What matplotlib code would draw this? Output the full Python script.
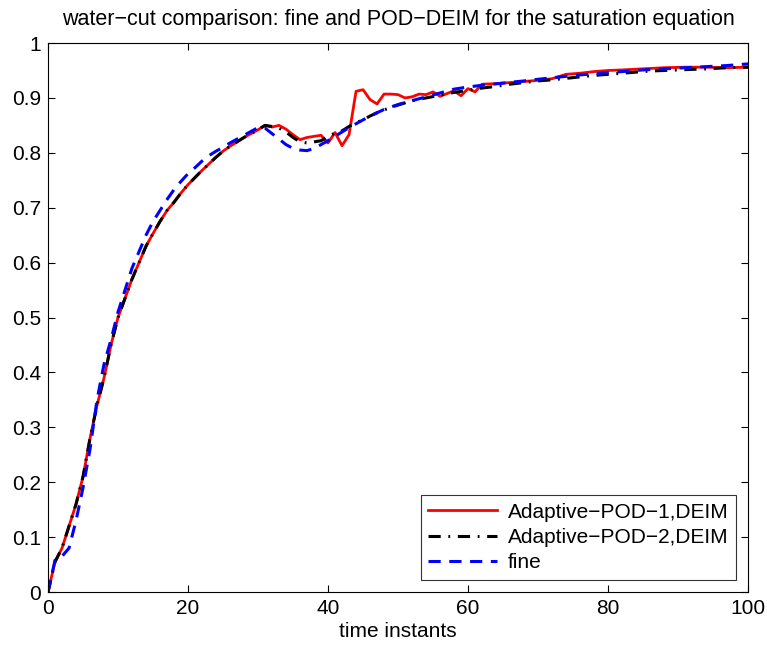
import matplotlib
matplotlib.use("Agg")
import matplotlib.pyplot as plt

plt.rcParams['font.family'] = ['Liberation Sans', 'DejaVu Sans']

# Adaptive-POD-1, DEIM (red)
t_pod1 = [0, 1, 2, 3, 4, 5, 6, 7, 8, 9, 10, 11, 12, 13, 14, 15, 16, 17, 18, 19, 20,
          21, 22, 23, 24, 25, 26, 27, 28, 29, 30, 31, 32, 33, 34, 35, 36, 37, 38, 39, 40,
          41, 42, 43, 44, 45, 46, 47, 48, 49, 50, 51, 52, 53, 54, 55, 56, 57, 58, 59, 60,
          61, 62, 64, 66, 68, 70, 72, 74, 76, 78, 80, 82, 85, 88, 91, 94, 97, 100]
v_pod1 = [0, 0.055, 0.08, 0.12, 0.16, 0.21, 0.28, 0.34, 0.39, 0.45, 0.50, 0.535, 0.57, 0.60,
          0.63, 0.653, 0.675, 0.695, 0.71, 0.727, 0.742, 0.755, 0.768, 0.78, 0.792, 0.803,
          0.812, 0.82, 0.828, 0.835, 0.842, 0.85, 0.847, 0.85, 0.843, 0.833, 0.824, 0.828,
          0.83, 0.832, 0.818, 0.837, 0.813, 0.833, 0.912, 0.915, 0.897, 0.889, 0.907, 0.907,
          0.906, 0.9, 0.902, 0.907, 0.906, 0.911, 0.903, 0.908, 0.913, 0.904, 0.917, 0.911,
          0.925, 0.926, 0.928, 0.93, 0.932, 0.935, 0.943, 0.945, 0.948, 0.95, 0.951, 0.953,
          0.955, 0.956, 0.956, 0.955, 0.956]

# Adaptive-POD-2, DEIM (black)
t_pod2 = [0, 1, 2, 3, 4, 5, 6, 7, 8, 9, 10, 11, 12, 13, 14, 15, 16, 17, 18, 19, 20,
          21, 22, 23, 24, 25, 26, 27, 28, 29, 30, 31, 32, 33, 34, 35, 36, 37, 38, 39, 40,
          41, 42, 43, 44, 45, 46, 47, 48, 49, 50, 52, 54, 56, 58, 60, 62, 64, 66, 68, 70,
          72, 75, 78, 80, 83, 86, 90, 94, 97, 100]
v_pod2 = [0, 0.055, 0.08, 0.12, 0.16, 0.21, 0.28, 0.34, 0.39, 0.45, 0.50, 0.535, 0.57, 0.60,
          0.63, 0.653, 0.675, 0.695, 0.71, 0.727, 0.742, 0.755, 0.768, 0.78, 0.792, 0.803,
          0.812, 0.82, 0.828, 0.835, 0.842, 0.85, 0.848, 0.845, 0.838, 0.828, 0.82, 0.818,
          0.82, 0.822, 0.83, 0.836, 0.84, 0.848, 0.855, 0.86, 0.867, 0.873, 0.878, 0.883,
          0.887, 0.895, 0.9, 0.905, 0.91, 0.914, 0.918, 0.921, 0.925, 0.928, 0.931, 0.933,
          0.937, 0.941, 0.943, 0.946, 0.949, 0.951, 0.953, 0.955, 0.956]

# fine (blue)
t_fine = [0, 1, 2, 3, 4, 5, 6, 7, 8, 9, 10, 11, 12, 13, 14, 15, 16, 17, 18, 19, 20,
          21, 22, 23, 24, 25, 26, 27, 28, 29, 30, 31, 32, 33, 34, 35, 36, 37, 38, 39, 40,
          41, 42, 43, 44, 45, 46, 47, 48, 50, 52, 54, 56, 58, 60, 62, 65, 68, 70, 73, 76,
          79, 82, 85, 88, 91, 94, 97, 100]
v_fine = [0, 0.058, 0.065, 0.08, 0.13, 0.19, 0.26, 0.35, 0.415, 0.46, 0.51, 0.55, 0.59,
          0.62, 0.65, 0.675, 0.695, 0.715, 0.733, 0.748, 0.762, 0.773, 0.785, 0.795, 0.803,
          0.81, 0.818, 0.825, 0.832, 0.839, 0.846, 0.845, 0.835, 0.825, 0.815, 0.808, 0.805,
          0.804, 0.808, 0.815, 0.822, 0.83, 0.838, 0.846, 0.853, 0.86, 0.867, 0.873, 0.879,
          0.888, 0.895, 0.902, 0.909, 0.916, 0.92, 0.923, 0.927, 0.931, 0.934, 0.938, 0.942,
          0.945, 0.948, 0.951, 0.953, 0.955, 0.957, 0.959, 0.962]

fig = plt.figure(figsize=(7.67, 6.52), dpi=100)
ax = fig.add_axes([0.0626, 0.092, 0.9127, 0.842])

ax.plot(t_pod1, v_pod1, color='red', lw=2.0, ls='-', label='Adaptive\u2212POD\u22121,DEIM')
ax.plot(t_pod2, v_pod2, color='black', lw=2.2, ls=(0, (4, 2.5, 0.6, 2.5)), label='Adaptive\u2212POD\u22122,DEIM')
ax.plot(t_fine, v_fine, color='blue', lw=2.2, ls=(0, (4, 2.8)), label='fine')

ax.set_xlim(0, 100)
ax.set_ylim(0, 1)
ax.set_xticks([0, 20, 40, 60, 80, 100])
ax.set_yticks([0, 0.1, 0.2, 0.3, 0.4, 0.5, 0.6, 0.7, 0.8, 0.9, 1])
ax.set_yticklabels(['0', '0.1', '0.2', '0.3', '0.4', '0.5', '0.6', '0.7', '0.8', '0.9', '1'])
ax.tick_params(direction='in', top=True, right=True, labelsize=15, length=5, width=0.8, pad=5)
for s in ax.spines.values():
    s.set_linewidth(0.8)

ax.set_xlabel('time instants', fontsize=15, labelpad=3)
ax.set_title('water\u2212cut comparison: fine and POD\u2212DEIM for the saturation equation',
             fontsize=15.5, pad=13)

leg = ax.legend(loc='lower right', fontsize=15, frameon=True, fancybox=False,
                edgecolor='black', borderaxespad=0.6, handlelength=3.3,
                labelspacing=0.3, borderpad=0.35, handletextpad=0.5)
leg.get_frame().set_linewidth(0.8)

fig.savefig('out.png', dpi=100)
